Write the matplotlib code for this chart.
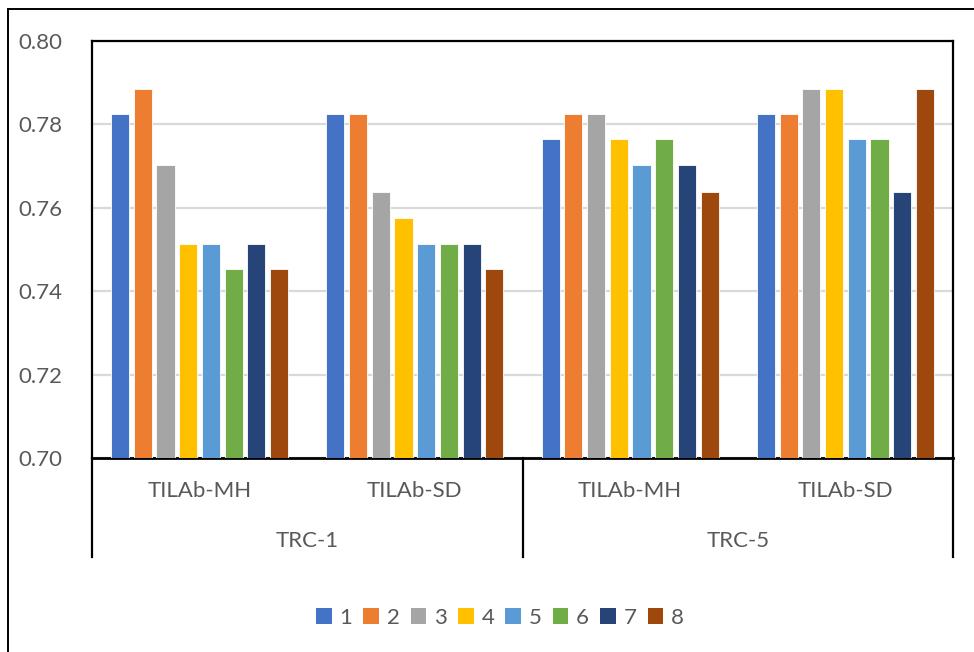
import matplotlib.pyplot as plt
from matplotlib.lines import Line2D
from matplotlib.patches import Patch

plt.rcParams["font.family"] = ["Lato", "DejaVu Sans"]

groups = ["TILAb-MH", "TILAb-SD", "TILAb-MH", "TILAb-SD"]
outer_groups = ["TRC-1", "TRC-5"]
series_names = ["1", "2", "3", "4", "5", "6", "7", "8"]
colors = ["#4472C4", "#ED7D31", "#A5A5A5", "#FFC000",
          "#5B9BD5", "#70AD47", "#264478", "#9E480E"]

s1 = [0.7824, 0.7824, 0.7765, 0.7824]
s2 = [0.7886, 0.7824, 0.7824, 0.7824]
s3 = [0.7702, 0.7639, 0.7824, 0.7886]
s4 = [0.7514, 0.7576, 0.7765, 0.7886]
s5 = [0.7514, 0.7514, 0.7702, 0.7765]
s6 = [0.7453, 0.7514, 0.7765, 0.7765]
s7 = [0.7514, 0.7514, 0.7702, 0.7639]
s8 = [0.7453, 0.7453, 0.7639, 0.7886]
series = [s1, s2, s3, s4, s5, s6, s7, s8]

W, H = 974, 652
TXT = "#595959"
FS = 16

fig = plt.figure(figsize=(W / 100, H / 100), dpi=100)
ax = fig.add_axes([92 / W, 1 - 458 / H, (953 - 92) / W, (458 - 41) / H])

step, width = 0.1056, 0.084
for j, (vals, c) in enumerate(zip(series, colors)):
    xs = [i + 0.5 + (j - 3.5) * step for i in range(len(groups))]
    ax.bar(xs, [v - 0.70 for v in vals], bottom=0.70, width=width,
           color=c, edgecolor="white", linewidth=0.6, zorder=3)

ax.set_xlim(0, 4)
ax.set_ylim(0.70, 0.80)
ax.set_yticks([0.70, 0.72, 0.74, 0.76, 0.78, 0.80])
ax.set_yticklabels([f"{t:.2f}" for t in ax.get_yticks()], color=TXT, fontsize=FS)
ax.tick_params(axis="y", length=0, pad=21)
ax.set_xticks([])
ax.grid(axis="y", color="#D9D9D9", linewidth=1.6, zorder=0)
for sp in ax.spines.values():
    sp.set_color("black")
    sp.set_linewidth(1.6)
ax.spines["bottom"].set_linewidth(2.0)

# two-level category axis below the plot
px = 1 / (458 - 41)
for x in (0, 2, 4):
    ax.add_line(Line2D([x, x], [0, -(557 - 458) * px], color="black", lw=1.6,
                       transform=ax.get_xaxis_transform(), clip_on=False))
for i, g in enumerate(groups):
    ax.text(i + 0.5, -(491 - 458) * px, g, transform=ax.get_xaxis_transform(),
            ha="center", va="center", color=TXT, fontsize=FS)
for k, g in enumerate(outer_groups):
    ax.text(2 * k + 1, -(541 - 458) * px, g, transform=ax.get_xaxis_transform(),
            ha="center", va="center", color=TXT, fontsize=FS)

handles = [Patch(facecolor=c, edgecolor="none") for c in colors]
fig.legend(handles, series_names, loc="center", bbox_to_anchor=(500 / W, 1 - 618 / H),
           ncol=8, frameon=False, fontsize=FS, labelcolor=TXT,
           handlelength=0.7, handleheight=0.7, handletextpad=0.35, columnspacing=0.5)

# chart frame
fig.add_artist(Line2D([8 / W, 8 / W], [0, 1 - 9 / H], color="black", lw=1.4))
fig.add_artist(Line2D([8 / W, 1], [1 - 9 / H, 1 - 9 / H], color="black", lw=1.4))

fig.savefig("out.png", dpi=100, facecolor="white")
